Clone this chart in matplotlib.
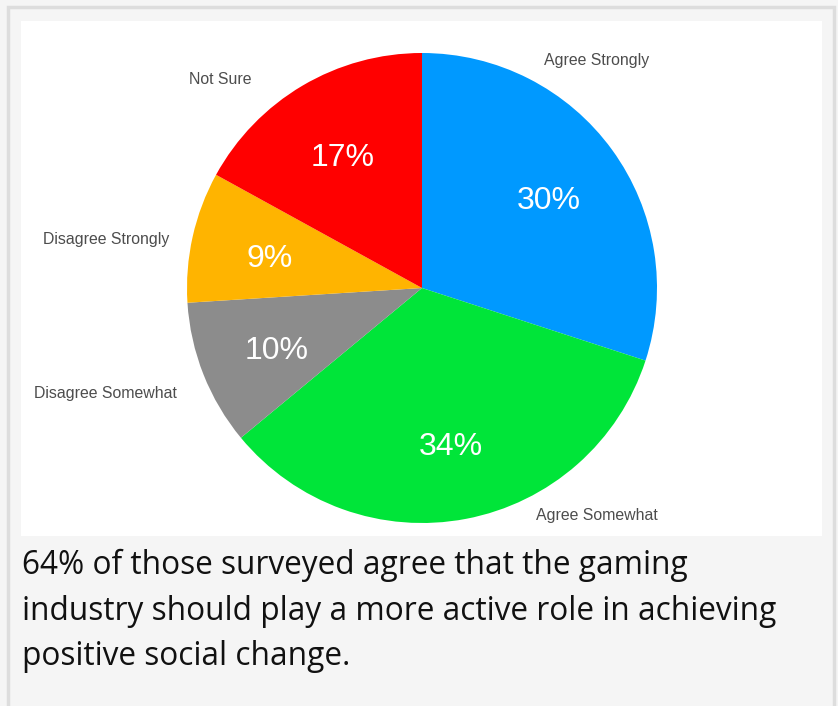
import matplotlib.pyplot as plt
from matplotlib.patches import Rectangle

categories = ["Agree Strongly", "Agree Somewhat", "Disagree Somewhat",
              "Disagree Strongly", "Not Sure"]
shares = [30, 34, 10, 9, 17]
colors = ["#0099ff", "#00e539", "#8c8c8c", "#ffb400", "#ff0000"]
# label anchors in pie-radius units
label_xy = [(0.745, 0.970), (0.745, -0.970), (-1.345, -0.451),
            (-1.345, 0.205), (-0.860, 0.886)]
caption = ("64% of those surveyed agree that the gaming\n"
           "industry should play a more active role in achieving\n"
           "positive social change.")

W, H = 838, 706
fig = plt.figure(figsize=(W / 100, H / 100), dpi=100)
fig.patch.set_facecolor("#f5f5f5")

# outer border
fig.patches.append(Rectangle((8 / W, -0.01), (834 - 8) / W, (H - 7) / H + 0.01,
                             transform=fig.transFigure, fill=False,
                             edgecolor="#dddddd", linewidth=2.5))

# white chart panel, pie centred at (422, 288) px with radius 235 px
px0, px1, py0, py1 = 21, 822, 21, 536
cx, cy, R = 422, 288, 235
ax = fig.add_axes([px0 / W, (H - py1) / H, (px1 - px0) / W, (py1 - py0) / H])
ax.set_facecolor("white")

wedges, _, autotexts = ax.pie(shares, colors=colors, startangle=90,
                              counterclock=False, radius=1,
                              autopct=lambda p: f"{p:.0f}%", pctdistance=0.665,
                              wedgeprops=dict(linewidth=0),
                              textprops=dict(color="white", fontsize=23,
                                             family="Liberation Sans"),
                              frame=True)
for t in autotexts:
    x, y = t.get_position()
    t.set_position((x, y - 5 / R))
ax.set_xlim((px0 - cx) / R, (px1 - cx) / R)
ax.set_ylim((cy - py1) / R, (cy - py0) / R)
ax.set_xticks([])
ax.set_yticks([])
for s in ax.spines.values():
    s.set_visible(False)

for name, (lx, ly) in zip(categories, label_xy):
    ax.text(lx, ly, name, ha="center", va="center", fontsize=11.4,
            color="#4d4d4d", family="Liberation Sans")

fig.text(22 / W, 1 - 549 / H, caption, ha="left", va="top",
         fontsize=22.8, family="Open Sans", color="#111111", linespacing=1.5)

fig.savefig("out.png", dpi=100, facecolor=fig.get_facecolor())
